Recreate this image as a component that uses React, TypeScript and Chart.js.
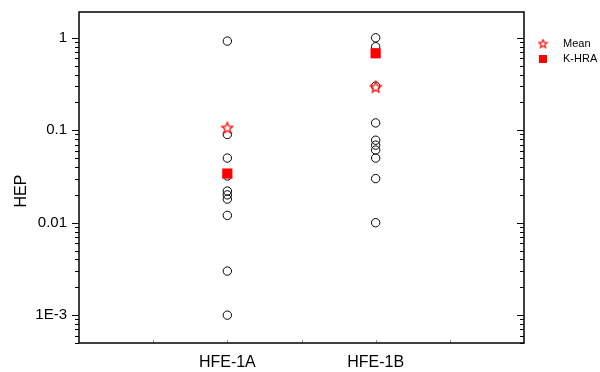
import { useEffect, useRef } from 'react';
import { Chart, registerables } from 'chart.js';
Chart.register(...registerables);

// ---- data ----
const categories = ['HFE-1A', 'HFE-1B'];
const categoryPositions = [1, 2];
const hfe1aValues = [0.92, 0.09, 0.05, 0.032, 0.022, 0.02, 0.018, 0.012, 0.003, 0.001];
const hfe1bValues = [1.0, 0.8, 0.68, 0.3, 0.12, 0.078, 0.069, 0.061, 0.05, 0.03, 0.01];
const meanValues = [0.105, 0.29];
const khraValues = [0.034, 0.68];
const seriesLabels = ['Mean', 'K-HRA'];
const decadeValues = [1, 0.1, 0.01, 0.001];
const decadeLabels = ['1', '0.1', '0.01', '1E-3'];
const yAxisTitle = 'HEP';

const FONT = '"Liberation Sans", Arial, sans-serif';

function makeStar(size: number, lw: number, color: string): HTMLCanvasElement {
  const c = document.createElement('canvas');
  c.width = size;
  c.height = size;
  const ctx = c.getContext('2d')!;
  const cx = size / 2, cy = size / 2;
  const R = size / 2 - lw;
  const r = R * 0.45;
  ctx.beginPath();
  for (let i = 0; i < 10; i++) {
    const a = -Math.PI / 2 + (i * Math.PI) / 5;
    const rr = i % 2 === 0 ? R : r;
    ctx.lineTo(cx + rr * Math.cos(a), cy + rr * Math.sin(a));
  }
  ctx.closePath();
  ctx.fillStyle = '#ffffff';
  ctx.fill();
  ctx.strokeStyle = color;
  ctx.lineWidth = lw;
  ctx.stroke();
  return c;
}

const decorPlugin = {
  id: 'decor',
  afterDraw(chart: any) {
    const { ctx, chartArea: ca, scales } = chart;
    const ys = scales.y;
    const xs = scales.x;
    ctx.save();
    const line = (x1: number, y1: number, x2: number, y2: number) => {
      ctx.beginPath();
      ctx.moveTo(x1, y1);
      ctx.lineTo(x2, y2);
      ctx.stroke();
    };
    // y ticks (left outward, right inward)
    ctx.strokeStyle = '#000';
    ctx.lineWidth = 1;
    for (let e = -4; e <= 0; e++) {
      for (let m = 1; m <= 9; m++) {
        const v = m * Math.pow(10, e);
        if (v < ys.min || v > ys.max) continue;
        const py = Math.round(ys.getPixelForValue(v)) + 0.5;
        const len = m === 1 ? 7 : 4;
        line(ca.left - len, py, ca.left, py);
        line(ca.right - len, py, ca.right, py);
      }
    }
    // x ticks
    ctx.strokeStyle = '#999';
    for (let v = 0.5; v < 3; v += 0.5) {
      const px = Math.round(xs.getPixelForValue(v)) + 0.5;
      line(px, ca.bottom, px, ca.bottom - 3);
    }
    // frame
    ctx.strokeStyle = '#000';
    ctx.lineWidth = 1.5;
    ctx.strokeRect(ca.left, ca.top, ca.right - ca.left, ca.bottom - ca.top);

    // y axis title
    ctx.fillStyle = '#000';
    ctx.font = `16px ${FONT}`;
    ctx.textAlign = 'center';
    ctx.textBaseline = 'middle';
    ctx.save();
    ctx.translate(22, 191);
    ctx.rotate(-Math.PI / 2);
    ctx.fillText(yAxisTitle, 0, 0);
    ctx.restore();

    // legend
    const ds = chart.data.datasets;
    const lx = ca.right + 19;
    const ly0 = 44;
    ctx.font = `11px ${FONT}`;
    ctx.textAlign = 'left';
    ctx.textBaseline = 'middle';
    const legendStar = makeStar(11, 1.2, '#ff0000');
    ctx.drawImage(legendStar, lx - 5.5, ly0 - 5.5);
    ctx.fillText(ds[1].label, lx + 20, ly0);
    ctx.fillStyle = '#ff0000';
    ctx.fillRect(lx - 4, ly0 + 15 - 4, 8, 8);
    ctx.fillStyle = '#000';
    ctx.fillText(ds[2].label, lx + 20, ly0 + 15);
    ctx.restore();
  },
};

export default function App() {
  const ref = useRef<HTMLCanvasElement | null>(null);
  useEffect(() => {
    if (!ref.current) return;
    const star = makeStar(14, 1.3, '#ff0000');
    const circlePoints = [
      ...hfe1aValues.map((v) => ({ x: categoryPositions[0], y: v })),
      ...hfe1bValues.map((v) => ({ x: categoryPositions[1], y: v })),
    ];
    const meanPoints = meanValues.map((v, i) => ({ x: categoryPositions[i], y: v }));
    const khraPoints = khraValues.map((v, i) => ({ x: categoryPositions[i], y: v }));

    const chart = new Chart(ref.current, {
      type: 'scatter',
      data: {
        datasets: [
          {
            label: 'HEP',
            data: circlePoints,
            pointStyle: 'circle',
            pointRadius: 4.2,
            borderColor: '#000',
            backgroundColor: 'rgba(0,0,0,0)',
            borderWidth: 1,
            order: 3,
          },
          {
            label: seriesLabels[0],
            data: meanPoints,
            pointStyle: star as any,
            pointRadius: 7,
            order: 2,
          },
          {
            label: seriesLabels[1],
            data: khraPoints,
            pointStyle: 'rect',
            pointRadius: 7.2,
            backgroundColor: '#ff0000',
            borderColor: '#ff0000',
            borderWidth: 0,
            order: 1,
          },
        ],
      },
      options: {
        responsive: false,
        animation: false,
        events: [],
        layout: { padding: { top: 12, right: 76, left: 0, bottom: 0 } },
        plugins: {
          legend: { display: false },
          tooltip: { enabled: false },
        },
        scales: {
          x: {
            type: 'linear',
            min: 0,
            max: 3,
            grid: { display: false, drawTicks: false },
            border: { display: false },
            afterFit: (s: any) => {
              s.height = 29;
              s.paddingLeft = 0;
              s.paddingRight = 0;
            },
            ticks: {
              stepSize: 0.5,
              autoSkip: false,
              maxRotation: 0,
              padding: 10,
              color: '#000',
              font: { family: FONT, size: 16 },
              callback: (value: any) => {
                const idx = categoryPositions.indexOf(Number(value));
                return idx >= 0 ? categories[idx] : '';
              },
            },
          },
          y: {
            type: 'logarithmic',
            min: 0.0005,
            max: 1.9,
            grid: { display: false, drawTicks: false },
            border: { display: false },
            afterFit: (s: any) => {
              s.width = 79;
              s.paddingTop = 0;
              s.paddingBottom = 0;
            },
            ticks: {
              autoSkip: false,
              padding: 12,
              color: '#000',
              font: { family: FONT, size: 15 },
              callback: (value: any) => {
                const v = Number(value);
                for (let i = 0; i < decadeValues.length; i++) {
                  if (Math.abs(v - decadeValues[i]) < decadeValues[i] * 1e-6) return decadeLabels[i];
                }
                return '';
              },
            },
          },
        },
      },
      plugins: [decorPlugin],
    });
    return () => chart.destroy();
  }, []);

  return (
    <div style={{ position: 'fixed', left: 0, top: 0, width: 600, height: 372, background: '#fff' }}>
      <canvas ref={ref} width={600} height={372} style={{ display: 'block' }} />
    </div>
  );
}
